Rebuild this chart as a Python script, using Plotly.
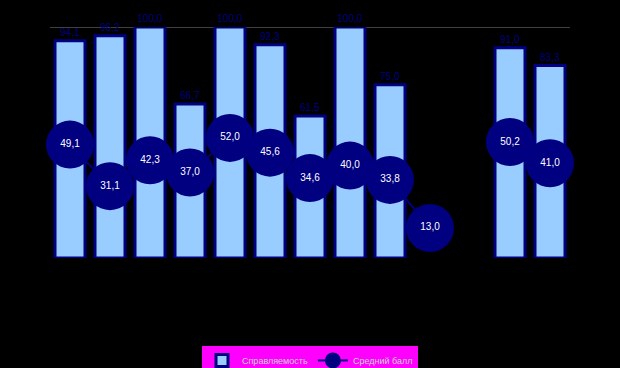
import plotly.graph_objects as go

categories = [str(i) for i in range(1, 14)]
coping = [94.1, 96.2, 100.0, 66.7, 100.0, 92.3, 61.5, 100.0, 75.0, None, None, 91.0, 83.3]
avg_score = [49.1, 31.1, 42.3, 37.0, 52.0, 45.6, 34.6, 40.0, 33.8, 13.0, None, 50.2, 41.0]
y_max = 100

def fmt(v):
    return "" if v is None else f"{v:.1f}".replace(".", ",")

fig = go.Figure()
fig.add_trace(go.Bar(
    x=categories, y=coping, name="Справляемость",
    marker=dict(color="#99CCFF", line=dict(color="#000080", width=3)),
    text=[fmt(v) for v in coping], textposition="outside",
    textfont=dict(color="#000080", size=10, family="Liberation Sans, Arial"),
    cliponaxis=False,
))
fig.add_trace(go.Scatter(
    x=categories, y=avg_score, name="Средний балл",
    mode="lines+markers+text",
    line=dict(color="#000080", width=2),
    marker=dict(color="#000080", size=48, line=dict(width=0)),
    text=[fmt(v) for v in avg_score], textposition="middle center",
    textfont=dict(color="white", size=10, family="Liberation Sans, Arial"),
    connectgaps=False, cliponaxis=False,
))
fig.add_hline(y=y_max, line=dict(color="#808080", width=1), layer="below")
fig.update_layout(
    width=620, height=368,
    margin=dict(l=50, r=50, t=27, b=110),
    paper_bgcolor="black", plot_bgcolor="black",
    bargap=0.25, showlegend=True,
    font=dict(family="Liberation Sans, Arial", size=10, color="#C0C0C0"),
    legend=dict(orientation="h", x=0.5, xanchor="center", yref="container", y=0.06, yanchor="top",
                bgcolor="#FF00FF", font=dict(size=9, color="#D0D0D0"),
                itemwidth=30, tracegroupgap=0),
)
fig.update_xaxes(range=[-0.5, 12.5], showticklabels=False, showgrid=False, zeroline=False,
                 showline=False, ticks="")
fig.update_yaxes(range=[0, y_max], showticklabels=False, showgrid=False,
                 zeroline=False, showline=False, ticks="")
fig.write_html("out.html", config={"displayModeBar": False},
               post_script="document.body.style.margin='0';document.body.style.background='black';")
